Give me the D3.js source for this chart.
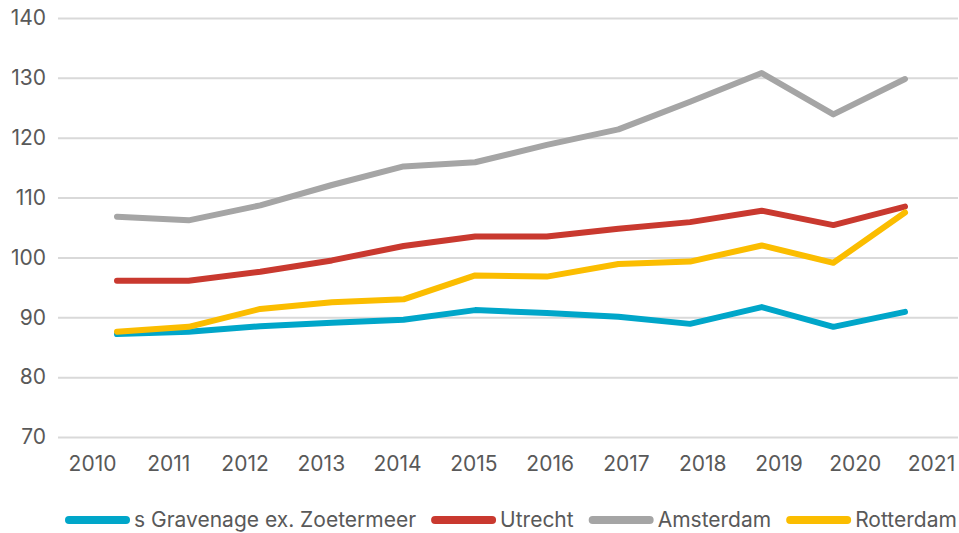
<!DOCTYPE html>
<html>
<head>
<meta charset="utf-8">
<script src="https://cdn.jsdelivr.net/npm/d3@7"></script>
<style>
  body { margin: 0; background: #fff; }
  text { font-family: Inter, Roboto, sans-serif; fill: #595959; }
</style>
</head>
<body>
<div id="chart"></div>
<script>
;(function () {
    const width = 959, height = 533
    const fontSize = 21

    // data
    const periods = d3.range(12) // one point per year step
    const yearLabels = ["2010","2011","2012","2013","2014","2015","2016","2017","2018","2019","2020","2021"]
    const yTicks = [70, 80, 90, 100, 110, 120, 130, 140]

    const seriesNames = ["s Gravenage ex. Zoetermeer", "Utrecht", "Amsterdam", "Rotterdam"]
    const denHaag   = [87.2, 87.6, 88.5, 89.1, 89.6, 91.2, 90.7, 90.1, 88.9, 91.7, 88.4, 90.9]
    const utrecht   = [96.1, 96.1, 97.6, 99.5, 101.9, 103.5, 103.5, 104.8, 105.9, 107.8, 105.4, 108.5]
    const amsterdam = [106.8, 106.2, 108.7, 112.1, 115.2, 115.9, 118.8, 121.4, 126.0, 130.8, 123.9, 129.8]
    const rotterdam = [87.6, 88.4, 91.4, 92.5, 93.0, 97.0, 96.8, 98.9, 99.3, 102.0, 99.1, 107.5]
    const seriesValues = [denHaag, utrecht, amsterdam, rotterdam]

    const colors = ["#00a6c9", "#c9392f", "#a5a5a5", "#fbbd00"]

    const svg = d3.select("#chart")
        .append("svg")
        .attr("width", width)
        .attr("height", height)

    const xScale = d3.scalePoint().domain(periods).range([117, 905])
    const xLabelScale = d3.scalePoint().domain(yearLabels).range([92, 931])
    const yScale = d3.scaleLinear().domain([70, 140]).range([437, 18])

    // gridlines + y labels
    const yAxis = d3.axisLeft(yScale)
        .tickValues(yTicks)
        .tickSize(-(958 - 58))
        .tickPadding(12)
    const gy = svg.append("g")
        .attr("transform", "translate(58,0)")
        .call(yAxis)
    gy.select(".domain").remove()
    gy.selectAll(".tick line").attr("stroke", "#d9d9d9").attr("stroke-width", 2)
    gy.selectAll(".tick text")
        .attr("font-size", fontSize)
        .attr("fill", "#595959")
        .style("font-family", "Inter, Roboto, sans-serif")

    // x labels
    const xAxis = d3.axisBottom(xLabelScale).tickSize(0).tickPadding(10)
    const gx = svg.append("g")
        .attr("transform", "translate(0,446)")
        .call(xAxis)
    gx.select(".domain").remove()
    gx.selectAll(".tick text")
        .attr("font-size", fontSize)
        .attr("fill", "#595959")
        .style("font-family", "Inter, Roboto, sans-serif")

    const line = d3.line()
        .x((d, i) => xScale(i))
        .y(d => yScale(d))

    // draw order: Den Haag, Utrecht, Amsterdam, Rotterdam (Rotterdam on top)
    svg.selectAll(".series")
        .data(seriesValues)
        .enter()
        .append("path")
        .attr("class", "series")
        .attr("fill", "none")
        .attr("stroke", (d, i) => colors[i])
        .attr("stroke-width", 6)
        .attr("stroke-linejoin", "round")
        .attr("stroke-linecap", "round")
        .attr("d", d => line(d))

    // legend
    const legend = svg.append("g").attr("transform", "translate(0,520)")
    let lx = 69
    seriesNames.forEach(function (name, i) {
        legend.append("line")
            .attr("x1", lx).attr("x2", lx + 57)
            .attr("y1", 0).attr("y2", 0)
            .attr("stroke", colors[i])
            .attr("stroke-width", 8)
            .attr("stroke-linecap", "round")
        const t = legend.append("text")
            .attr("x", lx + 65)
            .attr("y", 0)
            .attr("dy", "0.35em")
            .attr("font-size", fontSize)
            .text(name)
        lx += 65 + t.node().getComputedTextLength() + 19
    })
})()
</script>
</body>
</html>
